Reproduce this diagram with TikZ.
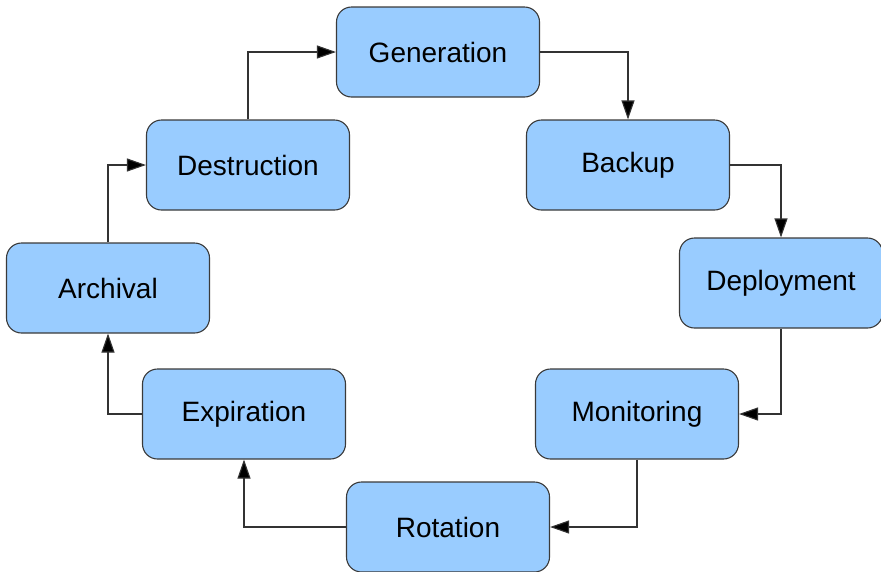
\documentclass[tikz,border=0pt]{standalone}
\usepackage{fontspec}
\setmainfont{Liberation Sans}
\usetikzlibrary{arrows.meta}
\definecolor{boxfill}{HTML}{99CCFF}
\definecolor{boxline}{HTML}{3A3A3A}
\definecolor{conn}{HTML}{333333}
\tikzset{
  stage/.style={rectangle, rounded corners=15pt, minimum width=203pt, minimum height=90pt,
    inner sep=0pt, fill=boxfill, draw=boxline, line width=1.1pt,
    font=\fontsize{28}{32}\selectfont},
  flow/.style={draw=conn, line width=1.1pt, -{Triangle[length=19pt,width=13pt,fill=black]}}
}
\begin{document}
\begin{tikzpicture}[x=1pt,y=-1pt]
\useasboundingbox (0,0) rectangle (881,571);
\node[stage] (gen) at (438,52) {Generation};
\node[stage] (bak) at (628,165) {Backup};
\node[stage] (dep) at (781,283) {Deployment};
\node[stage] (mon) at (637,414) {Monitoring};
\node[stage] (rot) at (448,527) {Rotation};
\node[stage] (exp) at (244,414) {Expiration};
\node[stage] (arc) at (108,288) {Archival};
\node[stage] (des) at (248,165) {Destruction};
\draw[flow] (des.north) |- (gen.west);
\draw[flow] (gen.east) -| (bak.north);
\draw[flow] (bak.east) -| (dep.north);
\draw[flow] (dep.south) |- (mon.east);
\draw[flow] (mon.south) |- (rot.east);
\draw[flow] (rot.west) -| (exp.south);
\draw[flow] (exp.west) -| (arc.south);
\draw[flow] (arc.north) |- (des.west);
\end{tikzpicture}
\end{document}
